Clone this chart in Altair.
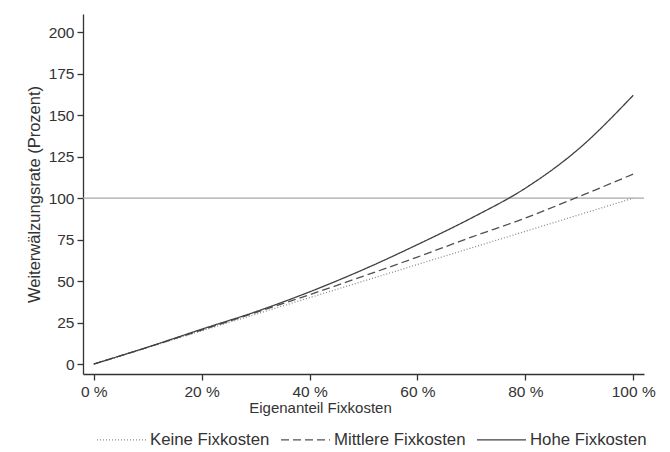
import altair as alt
import pandas as pd

shares = [0, 10, 20, 30, 40, 50, 60, 70, 80, 90, 100]
keine = [0, 10, 20, 30, 40, 50, 60, 70, 80, 90, 100]
mittlere = [0, 10.1, 20.5, 31, 41.8, 53, 64.5, 76.5, 88, 101, 114.5]
hohe = [0, 10.2, 21, 31.5, 43.5, 57, 72, 88, 106, 130, 162]
series = ["Keine Fixkosten", "Mittlere Fixkosten", "Hohe Fixkosten"]
y_ticks = [0, 25, 50, 75, 100, 125, 150, 175, 200]
x_ticks = [0, 20, 40, 60, 80, 100]
ref_level = [100]

rows = []
for name, vals in zip(series, [keine, mittlere, hohe]):
    for s, v in zip(shares, vals):
        rows.append({"share": s, "rate": v, "series": name})
df = pd.DataFrame(rows)

font = "Liberation Sans"
xscale = alt.Scale(domain=[-2, 102], nice=False, zero=False)
yscale = alt.Scale(domain=[-6, 211], nice=False, zero=False)

lines = alt.Chart(df).mark_line(strokeWidth=1.3, interpolate="monotone").encode(
    x=alt.X("share:Q", scale=xscale,
            axis=alt.Axis(values=x_ticks, title="Eigenanteil Fixkosten",
                          labelExpr="datum.value + ' %'", grid=False,
                          tickSize=6, labelPadding=4, titlePadding=1,
                          titleX=237, titleFontSize=15)),
    y=alt.Y("rate:Q", scale=yscale,
            axis=alt.Axis(values=y_ticks, title="Weiterwälzungsrate (Prozent)",
                          grid=False, tickSize=6, labelPadding=3, titlePadding=6,
                          titleFontSize=16.5)),
    color=alt.Color("series:N", sort=series,
                    scale=alt.Scale(domain=series, range=["#8a8a8a", "#505050", "#404040"]),
                    legend=alt.Legend(title=None, orient="none", direction="horizontal",
                                      legendX=13, legendY=400,
                                      symbolType="stroke", symbolSize=2400,
                                      symbolStrokeWidth=1.3, labelFontSize=16.8,
                                      labelFont=font, labelColor="#333333",
                                      columnPadding=8, labelOffset=3)),
    strokeDash=alt.StrokeDash("series:N", sort=series,
                              scale=alt.Scale(domain=series, range=[[1, 2], [8, 4], [1, 0]]),
                              legend=alt.Legend(title=None)),
)

rule = alt.Chart(pd.DataFrame({"level": ref_level})).mark_rule(
    color="#a8a8a8", strokeWidth=1.2).encode(y=alt.Y("level:Q", scale=yscale))

chart = alt.layer(rule, lines).properties(
    width=561, height=360,
    autosize=alt.AutoSizeParams(type="none"),
    padding={"left": 75, "top": 6, "right": 18, "bottom": 80},
).configure_view(stroke=None).configure_axis(
    domainColor="#333333", tickColor="#333333", labelColor="#333333",
    titleColor="#333333", labelFont=font, titleFont=font,
    labelFontSize=15.5, titleFontWeight="normal",
    domainWidth=1.3, tickWidth=1.3,
)

chart.save("out.html", embed_options={"renderer": "svg", "actions": False})
